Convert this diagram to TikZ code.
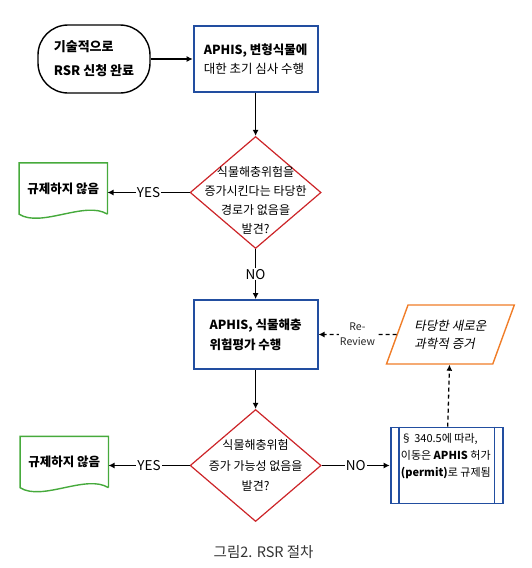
\documentclass[tikz,border=0pt]{standalone}
\usepackage{fontspec}
\setmainfont{Noto Sans CJK KR}
\newfontfamily\inclinada[FakeSlant=0.2]{Noto Sans CJK KR}
\usepackage{tikz}
\usetikzlibrary{positioning,arrows.meta,shapes.geometric}

\definecolor{azul}{RGB}{34,78,160}
\definecolor{rojo}{RGB}{204,36,40}
\definecolor{verde}{RGB}{70,170,60}
\definecolor{naranja}{RGB}{240,125,40}

\begin{document}
\begin{tikzpicture}[
    x=1pt, y=1pt,
    font=\fontsize{12}{19}\selectfont,
    inicio/.style={
        draw,
        line width=1.4pt,
        rounded corners=30pt,
        minimum width=112pt,
        minimum height=68pt,
        align=left,
        font=\fontsize{13}{24}\selectfont\bfseries
    },
    proceso/.style={
        draw=azul,
        line width=1.8pt,
        minimum width=124pt,
        minimum height=66pt,
        align=left,
        font=\fontsize{12.5}{19}\selectfont
    },
    pregunta/.style={
        diamond,
        draw=rojo,
        line width=1.2pt,
        minimum width=131pt,
        minimum height=112pt,
        inner sep=0pt
    },
    documento/.style={
        minimum width=88pt,
        minimum height=51pt,
        font=\fontsize{12.5}{19}\selectfont\bfseries
    },
    datos/.style={
        trapezium,
        trapezium left angle=61,
        trapezium right angle=119,
        trapezium stretches=true,
        draw=naranja,
        line width=1.4pt,
        minimum width=128pt,
        minimum height=59pt,
        align=left,
        font=\fontsize{12.5}{18}\selectfont\inclinada
    },
    predefinido/.style={
        draw=azul,
        line width=1.8pt,
        minimum width=112pt,
        minimum height=76pt
    },
    etiqueta/.style={fill=white, inner sep=1pt, font=\fontsize{13.5}{15}\selectfont},
    flecha/.style={-{Latex[length=6pt,width=6pt]}, line width=1.3pt},
    discontinua/.style={flecha, dash pattern=on 4pt off 3pt},
    >=Latex
]

\useasboundingbox (0,0) rectangle (532,-568);

\node[inicio] (inicio) at (94,-59)
{기술적으로\\RSR 신청 완료};

\node[proceso, right=42pt of inicio] (revision)
{\textbf{APHIS, 변형식물에}\\대한 초기 심사 수행};

\node[pregunta, below=43pt of revision] (riesgo) {};
\node[align=center] (riesgotexto) at ([yshift=-8pt]riesgo.center)
{식물해충위험을\\증가시킨다는 타당한\\경로가 없음을\\발견?};

\node[documento, left=82pt of riesgo, yshift=4pt] (nointeres)
{규제하지 않음};

\node[proceso, minimum height=69pt, below=50pt of riesgo, font=\fontsize{12.5}{20}\selectfont\bfseries] (evaluacion)
{APHIS, 식물해충\\위험평가 수행};

\node[datos, right=78pt of evaluacion] (evidencia)
{타당한 새로운\\과학적 증거};

\node[pregunta, below=39pt of evaluacion] (aumento) {};
\node[align=center, font=\fontsize{12}{20.5}\selectfont] (aumentotexto) at (aumento.center)
{식물해충위험\\증가 가능성 없음을\\발견?};

\node[documento, left=81pt of aumento, yshift=3.5pt] (noregula)
{규제하지 않음};

\node[predefinido, right=68pt of aumento] (permiso) {};
\node[anchor=north west, align=left, inner sep=0pt, font=\fontsize{11}{17}\selectfont] (permisotexto)
at ([xshift=11pt,yshift=-7pt]permiso.north west)
{§ 340.5에 따라,\\이동은 \textbf{APHIS} 허가\\\textbf{(permit)}로 규제됨};

\node[below=20pt of aumento, xshift=8pt, text=black!80, font=\fontsize{14.5}{16}\selectfont] (titulo)
{그림2. RSR 절차};

% documento y proceso predefinido
\draw[verde, line width=1.4pt] (nointeres.south east) -- (nointeres.north east) -- (nointeres.north west) -- (nointeres.south west)
    .. controls +(22,-14) and +(-22,14) .. (nointeres.south east);
\draw[verde, line width=1.4pt] (noregula.south east) -- (noregula.north east) -- (noregula.north west) -- (noregula.south west)
    .. controls +(22,-14) and +(-22,14) .. (noregula.south east);
\draw[azul, line width=1.8pt] ([xshift=9pt]permiso.north west) -- ([xshift=9pt]permiso.south west);
\draw[azul, line width=1.8pt] ([xshift=-9pt]permiso.north east) -- ([xshift=-9pt]permiso.south east);

\draw[flecha] (inicio) -- (revision);
\draw[flecha] (revision) -- (riesgo);
\draw[flecha] (riesgo) -- node[etiqueta] {NO} (evaluacion);
\draw[flecha] (riesgo.west) -- node[etiqueta] {YES} (riesgo.west -| nointeres.east);
\draw[flecha] (evaluacion) -- (aumento);
\draw[flecha] (aumento.west) -- node[etiqueta] {YES} (aumento.west -| noregula.east);
\draw[flecha] (aumento.east) -- node[etiqueta] {NO} (aumento.east -| permiso.west);
\draw[discontinua] (evidencia) -- node[etiqueta, align=center, text=black!85, font=\fontsize{10.5}{15}\selectfont] {Re-\\Review} (evaluacion);
\draw[discontinua] (permiso) -- (evidencia);

\end{tikzpicture}
\end{document}
